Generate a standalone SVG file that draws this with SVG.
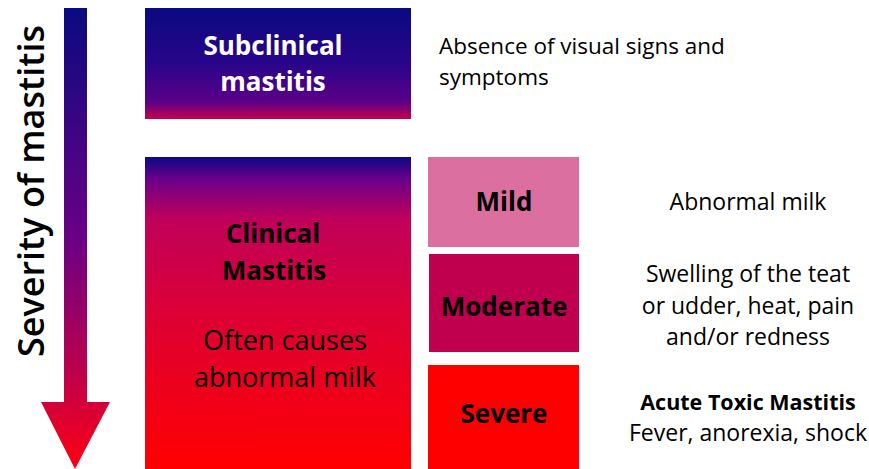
<svg xmlns="http://www.w3.org/2000/svg" width="869" height="469" viewBox="0 0 869 469">
<defs>
<linearGradient id="gArrow" x1="0" y1="8" x2="0" y2="469" gradientUnits="userSpaceOnUse">
<stop offset="0" stop-color="#0a0a80"/>
<stop offset="0.5" stop-color="#6a0085"/>
<stop offset="0.8" stop-color="#c0004a"/>
<stop offset="1" stop-color="#ff0010"/>
</linearGradient>
<linearGradient id="gSub" x1="0" y1="0" x2="0" y2="1">
<stop offset="0" stop-color="#0a0a80"/>
<stop offset="0.5" stop-color="#28058a"/>
<stop offset="0.85" stop-color="#5c0088"/>
<stop offset="1" stop-color="#c8004a"/>
</linearGradient>
<linearGradient id="gClin" x1="0" y1="0" x2="0" y2="1">
<stop offset="0" stop-color="#0a0a84"/>
<stop offset="0.07" stop-color="#6a008a"/>
<stop offset="0.2" stop-color="#c0005a"/>
<stop offset="0.5" stop-color="#dc0035"/>
<stop offset="1" stop-color="#ff0000"/>
</linearGradient>
<style>
.t{font-family:"Open Sans","Noto Sans","Liberation Sans",sans-serif;fill:#000}
.b{font-weight:bold}
.w{fill:#fff}
.c{text-anchor:middle}
</style>
</defs>
<g id="axis">
<polygon points="64,8 87,8 87,402 110,402 75,469 41,402 64,402" fill="url(#gArrow)"/>
<text class="t c" font-size="36" font-weight="600" transform="translate(44,191) rotate(-90)">Severity of mastitis</text>
</g>
<g id="subclinical">
<rect x="145" y="8" width="266" height="111" fill="url(#gSub)"/>
<text class="t b w c" font-size="26" x="273" y="55">Subclinical</text>
<text class="t b w c" font-size="26" x="273" y="91">mastitis</text>
</g>
<g id="subclinical-desc">
<text class="t" font-size="22.5" x="439" y="54">Absence of visual signs and</text>
<text class="t" font-size="22.5" x="439" y="85">symptoms</text>
</g>
<g id="clinical">
<rect x="145" y="157" width="266" height="312" fill="url(#gClin)"/>
<text class="t b c" font-size="26" x="273" y="243">Clinical</text>
<text class="t b c" font-size="26" x="274" y="280">Mastitis</text>
<text class="t c" font-size="27" x="285" y="350">Often causes</text>
<text class="t c" font-size="27" x="285" y="387">abnormal milk</text>
</g>
<g id="mild">
<rect x="428" y="157" width="151" height="90" fill="#da6fa0"/>
<text class="t b c" font-size="26" x="504" y="211">Mild</text>
</g>
<g id="moderate">
<rect x="429" y="254" width="150" height="98" fill="#c0004f"/>
<text class="t b c" font-size="26" x="504" y="316">Moderate</text>
</g>
<g id="severe">
<rect x="428" y="365" width="151" height="104" fill="#ff0000"/>
<text class="t b c" font-size="26" x="504" y="423">Severe</text>
</g>
<g id="mild-desc">
<text class="t c" font-size="23" x="748" y="210">Abnormal milk</text>
</g>
<g id="moderate-desc">
<text class="t c" font-size="23" x="748" y="282">Swelling of the teat</text>
<text class="t c" font-size="23" x="748" y="314">or udder, heat, pain</text>
<text class="t c" font-size="23" x="748" y="345">and/or redness</text>
</g>
<g id="severe-desc">
<text class="t b c" font-size="21.5" x="748" y="410">Acute Toxic Mastitis</text>
<text class="t c" font-size="23" x="748" y="441">Fever, anorexia, shock</text>
</g>
<g id="connectors"/>
</svg>
